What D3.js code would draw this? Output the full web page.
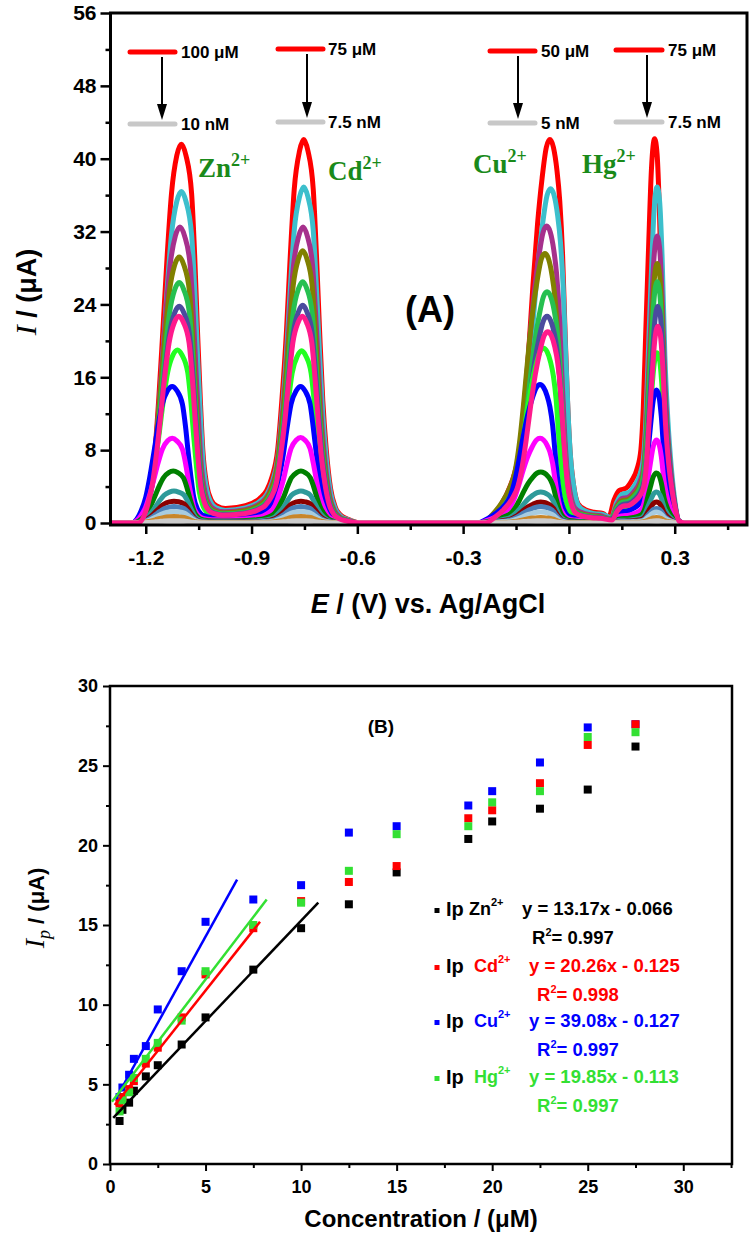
<!DOCTYPE html>
<html><head><meta charset="utf-8">
<script src="https://cdn.jsdelivr.net/npm/d3@7"></script>
<style>
body{margin:0;background:#fff;}
svg{display:block;}
</style></head><body>
<svg id="chart" width="750" height="1234"></svg>
<script>
// ================= Panel A data (SWASV curves) =================
const curveColors = ["#ff0000","#3cbfcc","#a6308c","#808000","#26c050","#4b4b9e","#ff1a8c","#22ff22","#0000ff","#ff00ff","#008000","#2e9a9a","#8b0000","#4a7fb8","#a8cce0","#c8862a","#cccccc"];
// peak heights (uA) of every curve at each stripping peak
const znPeak = [41.6,36.4,32.5,29.2,26.4,23.8,22.7,19.0,15.0,9.3,5.7,3.5,2.4,1.8,1.25,0.7,0.25];
const cdPeak = [42.1,36.9,32.5,29.9,26.5,23.9,22.7,18.9,15.0,9.4,5.7,3.5,2.4,1.8,1.25,0.7,0.25];
const cuPeak = [42.1,36.7,32.6,29.6,25.4,22.7,21.0,19.2,15.2,9.3,5.6,3.4,2.3,1.8,1.2,0.6,0.25];
const hgPeak = [42.2,36.9,31.5,28.5,26.5,23.8,21.6,18.7,14.6,9.1,5.5,3.4,2.3,1.6,1.2,0.6,0.25];
// peak potentials (V) of every curve
const znPos = [-1.099,-1.099,-1.103,-1.105,-1.105,-1.105,-1.106,-1.110,-1.125,-1.125,-1.122,-1.120,-1.120,-1.120,-1.120,-1.120,-1.120];
const cdPos = [-0.752,-0.752,-0.754,-0.755,-0.755,-0.755,-0.756,-0.758,-0.761,-0.761,-0.760,-0.760,-0.760,-0.760,-0.760,-0.760,-0.760];
const cuPos = [-0.054,-0.052,-0.063,-0.068,-0.062,-0.062,-0.060,-0.072,-0.082,-0.082,-0.080,-0.080,-0.080,-0.080,-0.080,-0.080,-0.080];
const hgPos = [0.243,0.250,0.250,0.250,0.250,0.252,0.252,0.250,0.248,0.248,0.248,0.248,0.248,0.248,0.248,0.248,0.248];
// normalised peak profiles (offset from peak potential, relative current)
const znOff   = [-0.115,-0.1,-0.088,-0.075,-0.064,-0.053,-0.04,-0.028,-0.013,0,0.013,0.029,0.038,0.046,0.054,0.061,0.072,0.085,0.1,0.125];
const znShape = [0,0.03,0.09,0.19,0.33,0.5,0.71,0.87,0.97,1,0.97,0.87,0.7,0.5,0.32,0.19,0.1,0.06,0.045,0.038];
const cdOff   = [-0.165,-0.125,-0.105,-0.09,-0.074,-0.062,-0.049,-0.038,-0.027,-0.012,0,0.012,0.027,0.036,0.045,0.054,0.064,0.076,0.09,0.105,0.125,0.16];
const cdShape = [0.045,0.064,0.085,0.12,0.19,0.32,0.5,0.7,0.87,0.97,1,0.97,0.87,0.7,0.5,0.32,0.19,0.09,0.04,0.02,0.01,0];
const cuOff   = [-0.176,-0.15,-0.125,-0.1,-0.085,-0.072,-0.06,-0.048,-0.035,-0.022,-0.01,0,0.01,0.02,0.028,0.036,0.043,0.05,0.057,0.067,0.08,0.1,0.125,0.15];
const cuShape = [0,0.03,0.07,0.13,0.19,0.3,0.45,0.62,0.78,0.9,0.98,1,0.98,0.92,0.84,0.7,0.5,0.32,0.19,0.1,0.05,0.035,0.028,0.025];
const hgOff   = [-0.13,-0.115,-0.1,-0.082,-0.065,-0.05,-0.039,-0.032,-0.025,-0.017,-0.009,0,0.007,0.014,0.022,0.031,0.04,0.05,0.06,0.075];
const hgShape = [0.015,0.06,0.085,0.09,0.11,0.14,0.19,0.3,0.5,0.72,0.92,1,0.96,0.8,0.5,0.3,0.17,0.07,0.01,0];
const potentialRange = [-1.3, 0.5];
const xTicksA = [-1.2,-0.9,-0.6,-0.3,0.0,0.3];
const xTickLabelsA = ["-1.2","-0.9","-0.6","-0.3","0.0","0.3"];
const xMinorA = [-1.05,-0.75,-0.45,-0.15,0.15,0.45];
const yTicksA = [0,8,16,24,32,40,48,56];
const yMinorA = [4,12,20,28,36,44,52];
const annoIons = ["Zn","Cd","Cu","Hg"];
const annoHigh = ["100 \u03bcM","75 \u03bcM","50 \u03bcM","75 \u03bcM"];
const annoLow  = ["10 nM","7.5 nM","5 nM","7.5 nM"];

// ================= Panel B data (calibration) =================
const concentrations = [0.5,0.65,1,1.25,1.875,2.5,3.75,5,7.5,10,12.5,15,18.75,20,22.5,25,27.5];
const ipZn = [2.7,3.4,3.85,4.6,5.5,6.2,7.5,9.2,12.2,14.8,16.3,18.3,20.4,21.5,22.3,23.5,26.2];
const ipCd = [3.8,4.2,4.7,5.2,6.3,7.3,9.2,11.9,14.8,16.5,17.7,18.7,21.7,22.2,23.9,26.3,27.6];
const ipCu = [4.2,4.8,5.6,6.6,7.4,9.7,12.1,15.2,16.6,17.5,20.8,21.2,22.5,23.4,25.2,27.4,27.6];
const ipHg = [3.3,4.0,4.5,5.4,6.6,7.6,9.0,12.1,15.0,16.4,18.4,20.7,21.2,22.7,23.4,26.8,27.1];
const seriesNames = ["Zn","Cd","Cu","Hg"];
const seriesColors = ["#000000","#ff0000","#0000ff","#33e033"];
const fitX0 = [0.17,0.25,0.4,0.1];
const fitY0 = [2.9,3.7,4.3,3.9];
const fitX1 = [10.9,7.85,6.65,8.2];
const fitY1 = [16.4,15.2,17.85,16.6];
const legendEq = ["y = 13.17x - 0.066","y = 20.26x - 0.125","y = 39.08x - 0.127","y = 19.85x - 0.113"];
const legendR2 = ["0.997","0.998","0.997","0.997"];
const xTicksB = [0,5,10,15,20,25,30];
const xMinorB = [2.5,7.5,12.5,17.5,22.5,27.5,32.5];
const yTicksB = [0,5,10,15,20,25,30];
const yMinorB = [2.5,7.5,12.5,17.5,22.5,27.5];

// ================= drawing =================
const svg = d3.select("#chart");
const SANS = "'Liberation Sans',Arial,sans-serif";
const SERIF = "'Liberation Serif','Times New Roman',serif";
function T(sel){ return sel.style("font-family",SANS).style("font-weight","bold"); }

// ---------- Panel A ----------
const A = {l:110.5, r:747, t:13, b:525};
const xA = d3.scaleLinear().domain([-1.3,0.505]).range([A.l, A.r]);
const yA = d3.scaleLinear().domain([-0.22,56]).range([A.b, A.t]);

svg.append("defs").append("clipPath").attr("id","clipA")
  .append("rect").attr("x",A.l).attr("y",A.t).attr("width",A.r-A.l).attr("height",A.b-A.t);

function buildCurve(c){
  const pts = [[potentialRange[0],0]];
  const peaks = [[znPos,znPeak,znOff,znShape],[cdPos,cdPeak,cdOff,cdShape],[cuPos,cuPeak,cuOff,cuShape],[hgPos,hgPeak,hgOff,hgShape]];
  peaks.forEach(([pos,pk,off,sh])=>{
    off.forEach((o,i)=>pts.push([pos[c]+o, pk[c]*sh[i]]));
  });
  pts.push([potentialRange[1]+0.01,0]);
  return pts;
}
const lineA = d3.line().x(d=>xA(d[0])).y(d=>yA(d[1])).curve(d3.curveMonotoneX);
const order = d3.range(curveColors.length).filter(i=>i!==6).concat([6]);
const gCurves = svg.append("g").attr("clip-path","url(#clipA)");
order.forEach(c=>{
  gCurves.append("path").attr("d",lineA(buildCurve(c)))
    .attr("fill","none").attr("stroke",curveColors[c])
    .attr("stroke-width",5).attr("stroke-linejoin","round").attr("stroke-linecap","round");
});

// axes A
function styleAxis(g,fs){
  g.select(".domain").remove();
  g.selectAll("text").style("font-family",SANS).style("font-weight","bold").attr("font-size",fs).attr("fill","#000");
  g.selectAll("line").attr("stroke","#000");
}
const gyA = svg.append("g").attr("transform",`translate(${A.l},0)`)
  .call(d3.axisLeft(yA).tickValues(yTicksA).tickSize(10).tickPadding(4).tickFormat(d3.format("d")));
styleAxis(gyA,21); gyA.selectAll("line").attr("stroke-width",2.5);
const gyAm = svg.append("g").attr("transform",`translate(${A.l},0)`)
  .call(d3.axisLeft(yA).tickValues(yMinorA).tickSize(5).tickFormat(""));
styleAxis(gyAm,21); gyAm.selectAll("line").attr("stroke-width",2.5);
const gxA = svg.append("g").attr("transform",`translate(0,${A.b})`)
  .call(d3.axisBottom(xA).tickValues(xTicksA).tickSize(9).tickPadding(16).tickFormat((d,i)=>xTickLabelsA[i]));
styleAxis(gxA,21); gxA.selectAll("line").attr("stroke-width",2.5);
const gxAm = svg.append("g").attr("transform",`translate(0,${A.b})`)
  .call(d3.axisBottom(xA).tickValues(xMinorA).tickSize(5).tickFormat(""));
styleAxis(gxAm,21); gxAm.selectAll("line").attr("stroke-width",2.5);
svg.append("rect").attr("x",A.l).attr("y",A.t).attr("width",A.r-A.l).attr("height",A.b-A.t)
  .attr("fill","none").attr("stroke","#000").attr("stroke-width",3);

// annotation (concentration range) A
const annoLayout = [
  {x1:130,x2:175,yHi:52,yLo:124,ax:162,tx:181},
  {x1:278,x2:323,yHi:49,yLo:122,ax:307,tx:328},
  {x1:490,x2:535,yHi:51,yLo:123,ax:518,tx:541},
  {x1:616,x2:662,yHi:50,yLo:122,ax:647,tx:668}];
annoLayout.forEach((L,i)=>{
  svg.append("line").attr("x1",L.x1).attr("x2",L.x2).attr("y1",L.yHi).attr("y2",L.yHi)
    .attr("stroke","#ff0000").attr("stroke-width",5).attr("stroke-linecap","round");
  svg.append("line").attr("x1",L.x1).attr("x2",L.x2).attr("y1",L.yLo).attr("y2",L.yLo)
    .attr("stroke","#c8c8c8").attr("stroke-width",5).attr("stroke-linecap","round");
  svg.append("line").attr("x1",L.ax).attr("x2",L.ax).attr("y1",L.yHi+5).attr("y2",L.yLo-18)
    .attr("stroke","#000").attr("stroke-width",2);
  svg.append("path").attr("d",`M${L.ax-5},${L.yLo-20} L${L.ax+5},${L.yLo-20} L${L.ax},${L.yLo-4} Z`).attr("fill","#000");
  T(svg.append("text")).attr("x",L.tx).attr("y",L.yHi+6).attr("font-size",17).text(annoHigh[i]);
  T(svg.append("text")).attr("x",L.tx).attr("y",L.yLo+6).attr("font-size",17).text(annoLow[i]);
});
const ionLabelPos = [[198,177],[328,180],[473,173],[582,173]];
annoIons.forEach((ion,i)=>{
  const t = svg.append("text").attr("x",ionLabelPos[i][0]).attr("y",ionLabelPos[i][1])
    .style("font-family",SERIF).style("font-weight","bold").attr("font-size",27).attr("fill","#1a8a1a");
  t.append("tspan").text(ion);
  t.append("tspan").attr("dy",-11).attr("font-size",18).text("2+");
});
T(svg.append("text")).attr("x",430).attr("y",322).attr("text-anchor","middle").attr("font-size",36).text("(A)");

// axis titles A
const tyA = T(svg.append("text")).attr("transform","translate(36,292) rotate(-90)").attr("text-anchor","middle").attr("font-size",27);
tyA.append("tspan").style("font-family",SERIF).style("font-style","italic").style("font-weight","normal").attr("font-size",30).text("I");
tyA.append("tspan").text(" / (\u03bcA)");
const txA = T(svg.append("text")).attr("x",428).attr("y",613).attr("text-anchor","middle").attr("font-size",27);
txA.append("tspan").style("font-style","italic").text("E");
txA.append("tspan").text(" / (V) vs. Ag/AgCl");

// ---------- Panel B ----------
const B = {l:110, r:732, t:686, b:1164};
const xB = d3.scaleLinear().domain([0,32.55]).range([B.l,B.r]);
const yB = d3.scaleLinear().domain([0,30]).range([B.b,B.t]);

const gyB = svg.append("g").attr("transform",`translate(${B.l},0)`)
  .call(d3.axisLeft(yB).tickValues(yTicksB).tickSize(7).tickPadding(5));
styleAxis(gyB,18); gyB.selectAll("line").attr("stroke-width",2);
const gyBm = svg.append("g").attr("transform",`translate(${B.l},0)`)
  .call(d3.axisLeft(yB).tickValues(yMinorB).tickSize(4).tickFormat(""));
styleAxis(gyBm,18); gyBm.selectAll("line").attr("stroke-width",2);
const gxB = svg.append("g").attr("transform",`translate(0,${B.b})`)
  .call(d3.axisBottom(xB).tickValues(xTicksB).tickSize(7).tickPadding(9));
styleAxis(gxB,18); gxB.selectAll("line").attr("stroke-width",2);
const gxBm = svg.append("g").attr("transform",`translate(0,${B.b})`)
  .call(d3.axisBottom(xB).tickValues(xMinorB).tickSize(4).tickFormat(""));
styleAxis(gxBm,18); gxBm.selectAll("line").attr("stroke-width",2);
svg.append("rect").attr("x",B.l).attr("y",B.t).attr("width",B.r-B.l).attr("height",B.b-B.t)
  .attr("fill","none").attr("stroke","#000").attr("stroke-width",2.5);

const ipSeries = [ipZn,ipCd,ipCu,ipHg];
const drawOrder = [0,2,1,3];
const sq = 8;
drawOrder.forEach(s=>{
  svg.append("g").selectAll("rect").data(concentrations.map((c,i)=>[c,ipSeries[s][i]])).join("rect")
    .attr("x",d=>xB(d[0])-sq/2).attr("y",d=>yB(d[1])-sq/2).attr("width",sq).attr("height",sq)
    .attr("fill",seriesColors[s]);
});
[0,1,2,3].forEach(s=>{
  svg.append("line").attr("x1",xB(fitX0[s])).attr("y1",yB(fitY0[s])).attr("x2",xB(fitX1[s])).attr("y2",yB(fitY1[s]))
    .attr("stroke",seriesColors[s]).attr("stroke-width",2.5);
});
T(svg.append("text")).attr("x",381).attr("y",733).attr("text-anchor","middle").attr("font-size",19).text("(B)");

// legend B
const legY = [915,972,1027,1083];
seriesNames.forEach((n,i)=>{
  const y = legY[i];
  const col = seriesColors[i];
  const txtCol = i===0 ? "#000" : col;
  svg.append("rect").attr("x",434.5).attr("y",y-7).attr("width",5).attr("height",5).attr("fill",col);
  T(svg.append("text")).attr("x",446).attr("y",y+1).attr("font-size",20).text("Ip");
  const ix = i===0 ? 469 : 474;
  const t = T(svg.append("text")).attr("x",ix).attr("y",y).attr("font-size",18).attr("fill",txtCol);
  t.append("tspan").text(n);
  t.append("tspan").attr("dy",-9).attr("font-size",11).text("2+");
  T(svg.append("text")).attr("x",i===0?522:529).attr("y",y).attr("font-size",18.5).attr("fill",txtCol).text(legendEq[i]);
  const r = T(svg.append("text")).attr("x",i===0?532:537).attr("y",y+29).attr("font-size",18.5).attr("fill",txtCol);
  r.append("tspan").text("R");
  r.append("tspan").attr("dy",-8).attr("font-size",11).text("2");
  r.append("tspan").attr("dy",8).text("= "+legendR2[i]);
});

// axis titles B
const tyB = T(svg.append("text")).attr("transform","translate(44,908) rotate(-90)").attr("text-anchor","middle").attr("font-size",22);
tyB.append("tspan").style("font-family",SERIF).style("font-style","italic").style("font-weight","normal").attr("font-size",28).text("I");
tyB.append("tspan").style("font-family",SERIF).style("font-style","italic").style("font-weight","normal").attr("font-size",18).attr("dy",6).text("p");
tyB.append("tspan").attr("dy",-6).text(" / (\u03bcA)");
T(svg.append("text")).attr("x",421).attr("y",1227).attr("text-anchor","middle").attr("font-size",24).text("Concentration / (\u03bcM)");
</script>
</body></html>
